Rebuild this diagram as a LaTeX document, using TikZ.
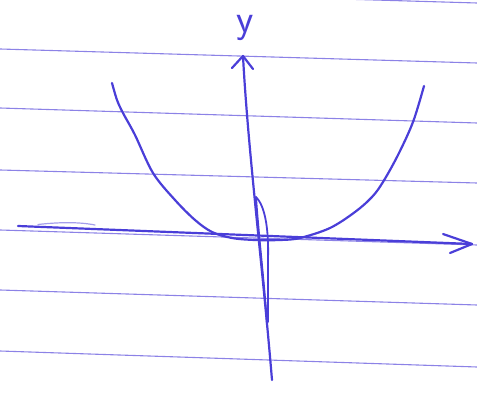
\documentclass[tikz,border=0pt]{standalone}
\usepackage{tikz}

\definecolor{pen}{RGB}{74,62,216}
\definecolor{rule}{RGB}{140,130,230}

\begin{document}
\begin{tikzpicture}[x=1pt, y=-1pt, line width=2.4pt, line cap=round, line join=round]

  %% ════ ruled paper ════
  \tikzset{ruled/.style={draw=rule, line width=1.1pt}}
  \draw[ruled] (0,-11) -- (477,3);
  \draw[ruled] (0,49) -- (477,63);
  \draw[ruled] (0,108) -- (477,123);
  \draw[ruled] (0,170) -- (477,183);
  \draw[ruled] (0,230) -- (477,245);
  \draw[ruled] (0,290) -- (477,305);
  \draw[ruled] (0,351) -- (477,367);

  %% ════ axes ════
  \tikzset{pen/.style={draw=pen, line width=2.2pt}}
  % x-axis (double stroke at the left end)
  \coordinate (xtip) at (472,244);
  \draw[pen] (18,226) -- (xtip);
  \draw[pen, line width=1.2pt, opacity=0.5] (38,224.5) .. controls (60,222) and (80,222) .. (95,225);
  \draw[pen] (443,234) -- (xtip) -- (450,253);

  % y-axis with the retraced loop near the origin
  \coordinate (ytip) at (243,56);
  \draw[pen] (ytip) .. controls (248,150) and (262,260) .. (272,380);
  \draw[pen] (232,68) -- (ytip) -- (253,69);
  \draw[pen, line width=1.8pt] (256,197) .. controls (259,240) and (265,290) .. (267,325);
  \draw[pen, line width=1.8pt] (256,197) .. controls (264,205) and (269,225) .. (268,260)
        -- (268,322);

  %% ════ parabola ════
  \draw[pen] plot[smooth, tension=0.55] coordinates {
    (112,83) (117,100) (123,113) (135,135) (153,173) (175,200) (195,220)
    (212,232) (232,238) (255,240) (280,240) (300,238) (330,228) (355,212)
    (372,197) (383,182) (398,155) (413,122) (424,86)};

  %% ════ label ════
  \node[text=pen, anchor=base, inner sep=0pt, font=\sffamily\fontsize{40}{40}\selectfont] (ylab) at (245,33) {y};

  \pgfresetboundingbox
  \path[use as bounding box] (0,0) rectangle (477,393);
\end{tikzpicture}
\end{document}
